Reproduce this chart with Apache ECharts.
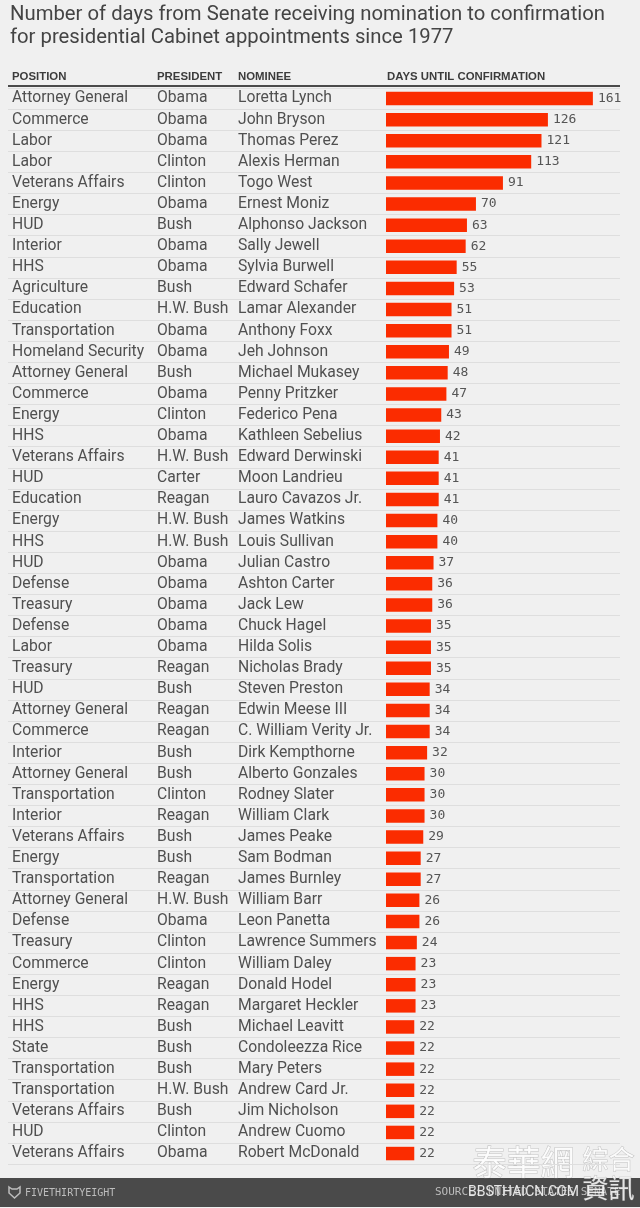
<!doctype html>
<html>
<head>
<meta charset="utf-8">
<title></title>
<script src="https://cdn.jsdelivr.net/npm/echarts@6/dist/echarts.min.js"></script>
<style type="text/css">
html, body { margin: 0; padding: 0; background: #f0f0f0; }
#chart { width: 640px; height: 1208px; }
</style>
</head>
<body>
<div id="chart"></div>
<script type="text/javascript">
var positions = ["Attorney General","Commerce","Labor","Labor","Veterans Affairs","Energy","HUD","Interior","HHS","Agriculture","Education","Transportation","Homeland Security","Attorney General","Commerce","Energy","HHS","Veterans Affairs","HUD","Education","Energy","HHS","HUD","Defense","Treasury","Defense","Labor","Treasury","HUD","Attorney General","Commerce","Interior","Attorney General","Transportation","Interior","Veterans Affairs","Energy","Transportation","Attorney General","Defense","Treasury","Commerce","Energy","HHS","HHS","State","Transportation","Transportation","Veterans Affairs","HUD","Veterans Affairs"];
var presidents = ["Obama","Obama","Obama","Clinton","Clinton","Obama","Bush","Obama","Obama","Bush","H.W. Bush","Obama","Obama","Bush","Obama","Clinton","Obama","H.W. Bush","Carter","Reagan","H.W. Bush","H.W. Bush","Obama","Obama","Obama","Obama","Obama","Reagan","Bush","Reagan","Reagan","Bush","Bush","Clinton","Reagan","Bush","Bush","Reagan","H.W. Bush","Obama","Clinton","Clinton","Reagan","Reagan","Bush","Bush","Bush","H.W. Bush","Bush","Clinton","Obama"];
var nominees = ["Loretta Lynch","John Bryson","Thomas Perez","Alexis Herman","Togo West","Ernest Moniz","Alphonso Jackson","Sally Jewell","Sylvia Burwell","Edward Schafer","Lamar Alexander","Anthony Foxx","Jeh Johnson","Michael Mukasey","Penny Pritzker","Federico Pena","Kathleen Sebelius","Edward Derwinski","Moon Landrieu","Lauro Cavazos Jr.","James Watkins","Louis Sullivan","Julian Castro","Ashton Carter","Jack Lew","Chuck Hagel","Hilda Solis","Nicholas Brady","Steven Preston","Edwin Meese III","C. William Verity Jr.","Dirk Kempthorne","Alberto Gonzales","Rodney Slater","William Clark","James Peake","Sam Bodman","James Burnley","William Barr","Leon Panetta","Lawrence Summers","William Daley","Donald Hodel","Margaret Heckler","Michael Leavitt","Condoleezza Rice","Mary Peters","Andrew Card Jr.","Jim Nicholson","Andrew Cuomo","Robert McDonald"];
var days = [161,126,121,113,91,70,63,62,55,53,51,51,49,48,47,43,42,41,41,41,40,40,37,36,36,35,35,35,34,34,34,32,30,30,30,29,27,27,26,26,24,23,23,23,22,22,22,22,22,22,22];

var rowH = 21.1, gridTop = 88, gridH = rowH * days.length;
var textColor = '#505050', font = '"Liberation Sans", sans-serif';
var stamp = {fill:'rgba(255,255,255,0.85)', stroke:'rgba(140,140,140,0.45)', lineWidth:1};

//文字列：同一网格上的类目轴，用 offset 摆到各列的位置
function textAxis(data, x){
	return {
		type:'category', inverse:true, data:data, position:'left', offset:386 - x,
		axisLine:{show:false}, axisTick:{show:false},
		axisLabel:{show:true, interval:0, align:'left', margin:0, color:textColor, fontFamily:'Roboto, sans-serif', fontSize:15.7}
	};
}
function header(text, x){
	return {type:'text', left:x, top:71, style:{text:text, fill:'#3c3c3c', font:'bold 11.4px ' + font}};
}
function stampText(text, x, y, size){
	return {type:'text', left:x, top:y, style:Object.assign({text:text, font:size + 'px "Noto Sans CJK TC"'}, stamp)};
}

var chart = echarts.init(document.getElementById('chart'));
chart.setOption({
	backgroundColor:'#f0f0f0',
	animation:false,
	grid:[
		{left:386, top:gridTop, width:231.3, height:gridH},
		{left:8, top:gridTop, width:612, height:gridH}
	],
	xAxis:[
		{type:'value', gridIndex:0, min:0, max:180, show:false},
		{type:'value', gridIndex:1, min:0, max:1, show:false}
	],
	yAxis:[
		{type:'category', gridIndex:0, inverse:true, data:nominees, show:false},
		textAxis(positions, 12),
		textAxis(presidents, 157),
		textAxis(nominees, 238),
		{
			type:'category', gridIndex:1, inverse:true, data:nominees,
			axisLine:{show:false}, axisTick:{show:false}, axisLabel:{show:false},
			splitLine:{show:true, interval:0, lineStyle:{color:'#dedede', width:1}}
		}
	],
	series:[{
		type:'bar',
		xAxisIndex:0,
		yAxisIndex:0,
		data:days,
		barWidth:13.5,
		z:3,
		itemStyle:{color:'#fb2c00'},
		label:{
			show:true, position:'right', distance:5, color:'#555',
			fontFamily:'"DejaVu Sans Mono", monospace', fontSize:13
		}
	}],
	graphic:[
		{type:'text', left:10, top:3, style:{text:'Number of days from Senate receiving nomination to confirmation\nfor presidential Cabinet appointments since 1977', fill:'#444', font:'20.3px Roboto, sans-serif', lineHeight:23}},
		header('POSITION', 12), header('PRESIDENT', 157), header('NOMINEE', 238), header('DAYS UNTIL CONFIRMATION', 387),
		{type:'rect', shape:{x:8, y:85, width:612, height:2}, style:{fill:'#4a4a4a'}},
		{type:'rect', shape:{x:0, y:1178, width:640, height:29}, style:{fill:'#4a4a4a'}},
		{type:'polygon', shape:{points:[[9,1187],[12,1189],[17,1189],[20,1187],[20,1193],[14.5,1198],[9,1193]]}, style:{fill:'none', stroke:'#bdbdbd', lineWidth:1.5}},
		{type:'text', left:25, top:1188, style:{text:'FIVETHIRTYEIGHT', fill:'#bdbdbd', font:'10px "DejaVu Sans Mono", monospace'}},
		{type:'text', left:435, top:1187, style:{text:'SOURCE: UNITED STATES SENATE', fill:'#bdbdbd', font:'11px "DejaVu Sans Mono", monospace'}},
		{type:'text', left:468, top:1185, style:{text:'BBSTHAICN.COM', fill:'#e6e6e6', font:'14px Roboto, sans-serif'}},
		stampText('泰華網', 472, 1145, 34),
		stampText('綜合', 582, 1146, 26),
		stampText('資訊', 582, 1175, 26)
	]
});
</script>
</body>
</html>
